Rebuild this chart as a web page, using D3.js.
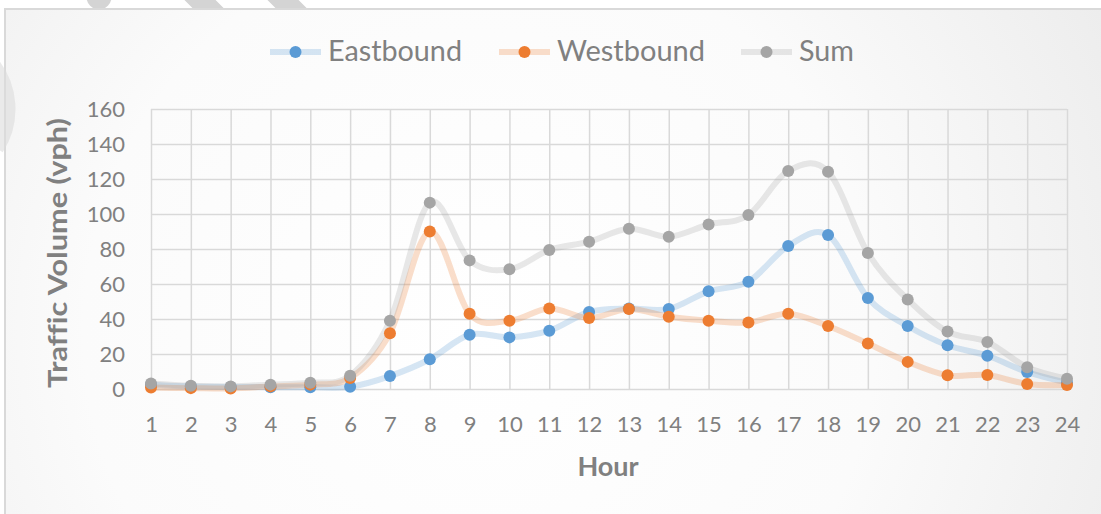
<!DOCTYPE html>
<html><head><meta charset="utf-8">
<script src="https://cdn.jsdelivr.net/npm/d3@7"></script>
<style>html,body{margin:0;padding:0;background:#fff;overflow:hidden} text{font-variant-ligatures:none;font-feature-settings:"liga" 0}</style>
</head><body><svg id="c" width="1101" height="514"></svg>
<script>
const hours = [1,2,3,4,5,6,7,8,9,10,11,12,13,14,15,16,17,18,19,20,21,22,23,24];
const eastbound = [2.4,1.4,1.2,1.0,1.0,1.3,7.4,17.0,31.0,29.5,33.3,44.0,46.0,45.7,55.8,61.3,81.7,88.0,52.0,36.0,25.0,19.0,9.7,3.6];
const westbound = [0.8,0.5,0.3,1.5,2.5,6.3,31.8,90.0,43.0,39.0,46.0,40.6,45.7,41.3,39.0,38.0,43.0,36.0,26.0,15.5,7.8,8.0,2.9,2.3];
const sumVals   = [3.2,1.9,1.5,2.5,3.6,7.6,39.0,106.5,73.5,68.4,79.4,84.2,91.6,87.0,94.0,99.4,124.6,124.2,77.7,51.2,32.8,26.9,12.4,5.9];
const yTicks = [0,20,40,60,80,100,120,140,160];
const seriesNames = ["Eastbound","Westbound","Sum"];
const seriesColors = ["#5b9bd5","#ed7d31","#a5a5a5"];
const xTitle = "Hour";
const yTitle = "Traffic Volume (vph)";

const series = seriesNames.map((n,i)=>({name:n,color:seriesColors[i],values:[eastbound,westbound,sumVals][i]}));

const svg = d3.select("#c");
const FONT = "Lato, 'Open Sans', sans-serif";
const TXT = "#808080";

// watermark shapes behind chart (top edge)
const defs = svg.append("defs");
defs.append("clipPath").attr("id","topclip").append("rect").attr("x",0).attr("y",0).attr("width",1101).attr("height",9);
const wm = svg.append("g").attr("clip-path","url(#topclip)").attr("stroke","#d4d4d4").attr("fill","none").attr("stroke-linecap","round");
wm.append("line").attr("x1",99).attr("y1",-40).attr("x2",99).attr("y2",-3).attr("stroke-width",25);
wm.append("line").attr("x1",180).attr("y1",-20).attr("x2",240).attr("y2",40).attr("stroke-width",22);
wm.append("line").attr("x1",263).attr("y1",-20).attr("x2",323).attr("y2",40).attr("stroke-width",22);

// chart background
const rg = defs.append("radialGradient").attr("id","bg").attr("gradientUnits","userSpaceOnUse")
  .attr("cx",480).attr("cy",330).attr("r",720);
rg.append("stop").attr("offset","0").attr("stop-color","#ffffff");
rg.append("stop").attr("offset","0.55").attr("stop-color","#fbfbfb");
rg.append("stop").attr("offset","1").attr("stop-color","#ececec");
svg.append("rect").attr("x",5).attr("y",9).attr("width",1110).attr("height",520)
  .attr("fill","url(#bg)").attr("stroke","#d9d9d9").attr("stroke-width",2);

// left arc watermark (faint, on top)
svg.append("path").attr("d","M -10 62 A 72 72 0 0 1 -4 148")
  .attr("fill","none").attr("stroke","#dcdcdc").attr("stroke-width",16).attr("opacity",0.6);

const x = d3.scalePoint().domain(hours).range([151,1067]);
const y = d3.scaleLinear().domain([0,160]).range([389,109]);

// y axis with gridlines
const gy = svg.append("g").attr("transform","translate(151,0)")
  .call(d3.axisLeft(y).tickValues(yTicks).tickSize(-916).tickPadding(26));
gy.select(".domain").remove();
gy.selectAll("line").attr("stroke","#d9d9d9").attr("stroke-width",1.5);
gy.selectAll("text").attr("fill",TXT).style("font-family",FONT).style("font-size","22px");

// x axis with gridlines
const gx = svg.append("g").attr("transform","translate(0,389)")
  .call(d3.axisBottom(x).tickSize(-280).tickPadding(27));
gx.select(".domain").remove();
gx.selectAll("line").attr("stroke","#d9d9d9").attr("stroke-width",1.5);
gx.selectAll("text").attr("fill",TXT).style("font-family",FONT).style("font-size","22px");

// lines
const line = d3.line().x((d,i)=>x(hours[i])).y(d=>y(d)).curve(d3.curveCardinal.tension(0));
svg.append("g").selectAll("path").data(series).join("path")
  .attr("d",d=>line(d.values)).attr("fill","none").attr("stroke",d=>d.color)
  .attr("stroke-width",6).attr("stroke-opacity",0.25).attr("stroke-linejoin","round");

// markers
series.forEach(s=>{
  svg.append("g").selectAll("circle").data(s.values).join("circle")
    .attr("cx",(d,i)=>x(hours[i])).attr("cy",d=>y(d)).attr("r",6).attr("fill",s.color);
});

// legend
const legX = [270,499,741];
const lg = svg.append("g").selectAll("g").data(series).join("g")
  .attr("transform",(d,i)=>`translate(${legX[i]},52)`);
lg.append("line").attr("x1",0).attr("x2",51).attr("y1",0).attr("y2",0)
  .attr("stroke",d=>d.color).attr("stroke-opacity",0.25).attr("stroke-width",6);
lg.append("circle").attr("cx",25.5).attr("cy",0).attr("r",6).attr("fill",d=>d.color);
const legW = [134,148,55];
lg.append("text").attr("x",58).attr("y",9).text(d=>d.name)
  .attr("fill",TXT).style("font-family",FONT).style("font-size","29px")
  .attr("textLength",(d,i)=>legW[i]).attr("lengthAdjust","spacingAndGlyphs");

// axis titles
svg.append("text").attr("x",608).attr("y",476).attr("text-anchor","middle").text(xTitle)
  .attr("fill",TXT).style("font-family",FONT).style("font-size","27px").style("font-weight","bold");
svg.append("text").attr("transform","translate(67,253) rotate(-90)").attr("text-anchor","middle").text(yTitle)
  .attr("fill",TXT).style("font-family",FONT).style("font-size","27px").style("font-weight","bold")
  .attr("textLength",270).attr("lengthAdjust","spacingAndGlyphs");
</script></body></html>
